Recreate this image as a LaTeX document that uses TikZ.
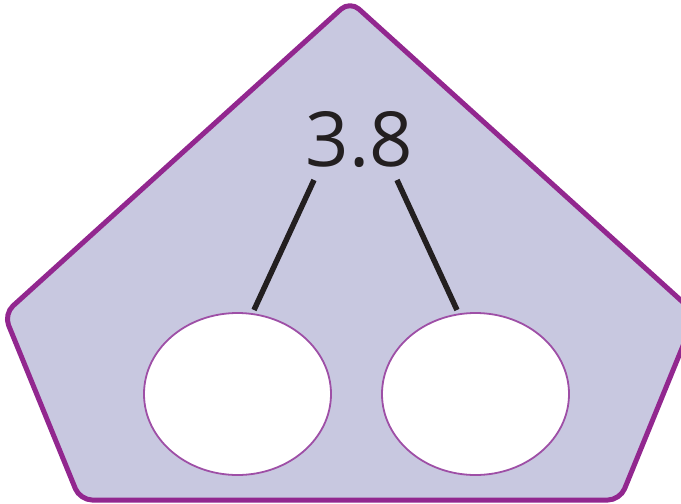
\documentclass[tikz,border=0pt]{standalone}
\usepackage{fontspec}
\setmainfont{Open Sans}
\usetikzlibrary{shapes.geometric}
\definecolor{pentfill}{HTML}{C8C8E0}
\definecolor{pentline}{HTML}{92278F}
\definecolor{ovalline}{HTML}{9E4FA6}
\definecolor{inkline}{HTML}{231F20}
\begin{document}
\begin{tikzpicture}[x=1pt,y=-1pt,
  pent/.style={fill=pentfill,draw=pentline,line width=5pt,rounded corners=12pt,line join=round},
  oval/.style={ellipse,draw=ovalline,line width=1.8pt,fill=white,minimum width=187pt,minimum height=162pt,inner sep=0pt},
  stem/.style={draw=inkline,line width=5.5pt},
  numlabel/.style={font=\fontsize{76}{76}\selectfont,text=inkline,inner sep=0pt}]
\useasboundingbox (0,0) rectangle (681,504);
\clip (0,0) rectangle (681,504);
\draw[pent] (350,1) -- (696,314) -- (620,500) -- (80,500) -- (4,314) -- cycle;
\node[numlabel] (num) at (359.5,140) {3.8};
\node[oval] (left) at (237.5,394) {};
\node[oval] (right) at (475.5,394) {};
\coordinate (lt) at (314,180);
\coordinate (lb) at (254,310);
\coordinate (rt) at (397,180);
\coordinate (rb) at (457,310);
\draw[stem] (lt) -- (lb);
\draw[stem] (rt) -- (rb);
\end{tikzpicture}
\end{document}
